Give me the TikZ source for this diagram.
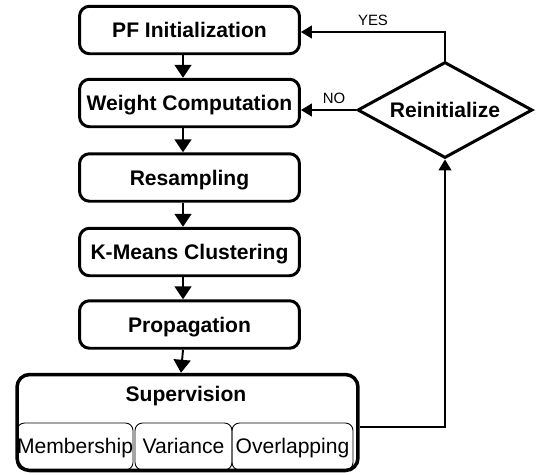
\documentclass[tikz,border=0pt]{standalone}
\usepackage{fontspec}
\setmainfont{Liberation Sans}
\usepackage{tikz}
\usetikzlibrary{shapes.geometric, arrows.meta, calc}
\tikzset{
	stepbox/.style={draw, line width=1.7pt, rounded corners=0.2cm, minimum width=4.4cm,
		minimum height=0.95cm, inner sep=0pt, text height=0.92em, text depth=0.05em,
		font=\fontsize{12}{14}\selectfont\bfseries}
}
\tikzset{
	subbox/.style={draw, line width=0.5pt, rounded corners=0.15cm, minimum height=0.94cm,
		inner sep=0pt, text height=0.8em, text depth=0.05em, font=\fontsize{12}{14}\selectfont}
}
\tikzset{
	decision/.style={draw, diamond, aspect=1.8, line width=1.7pt, minimum width=3.5cm,
		minimum height=1.92cm, inner sep=0pt, font=\fontsize{12}{14}\selectfont\bfseries}
}
\tikzset{
	flow/.style={line width=1.1pt, -{Triangle[width=0.34cm, length=0.26cm]}},
	back/.style={line width=0.8pt, -{Triangle[width=0.26cm, length=0.22cm]}},
	smalltext/.style={font=\fontsize{8.5}{10}\selectfont}
}

\begin{document}
\begin{tikzpicture}[x=0.02cm, y=-0.02cm]
      \useasboundingbox (0,0) rectangle (538,474);
      \node[stepbox] (pf) at (189.5,30) {PF Initialization};
      \node[stepbox] (wc) at (189.5,103) {Weight Computation};
      \node[stepbox] (rs) at (189.5,177.5) {Resampling};
      \node[stepbox] (km) at (189.5,252) {K-Means Clustering};
      \node[stepbox] (pp) at (189.5,324.5) {Propagation};
      % supervision block with its three checks
      \node[subbox, minimum width=2.22cm] (memb) at (75,446.5) {Membership};
      \node[subbox, minimum width=1.94cm] (var) at (183.5,446.5) {Variance};
      \node[subbox, minimum width=2.42cm] (ovl) at (292.5,446.5) {Overlapping};
      \node[draw, line width=2pt, rounded corners=0.25cm, minimum width=6.82cm,
        minimum height=1.92cm] (sup) at (187.5,422.5) {};
      \node[font=\fontsize{12}{14}\selectfont\bfseries] (suptitle) at (186,396) {Supervision};
      \node[decision] (dm) at (445,110) {Reinitialize};
      \draw[flow] ([xshift=-0.13cm]pf.south) -- ([xshift=-0.13cm]wc.north);
      \draw[flow] ([xshift=-0.13cm]wc.south) -- ([xshift=-0.13cm]rs.north);
      \draw[flow] ([xshift=-0.13cm]rs.south) -- ([xshift=-0.13cm]km.north);
      \draw[flow] ([xshift=-0.13cm]km.south) -- ([xshift=-0.13cm]pp.north);
      \draw[flow] ([xshift=-0.13cm]pp.south) -- ([xshift=-0.13cm]sup.north);
      % feedback loop
      \draw[back] ([yshift=-0.09cm]sup.east) -| (dm.south);
      \draw[back] (dm.north) |- ([yshift=-0.04cm]pf.east) node[pos=0.75, above, smalltext] {YES};
      \draw[back] (dm.west) -- (dm.west -| wc.east) node[pos=0.4, above, smalltext] {NO};
\end{tikzpicture}
\end{document}
